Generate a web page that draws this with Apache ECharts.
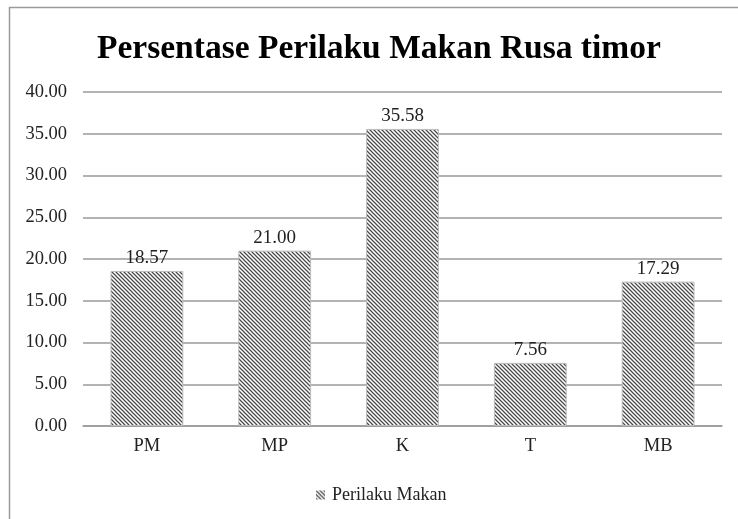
<!DOCTYPE html>
<html><head><meta charset="utf-8">
<script src="https://cdn.jsdelivr.net/npm/echarts@6/dist/echarts.min.js"></script>
<style>html,body{margin:0;padding:0;background:#fff}#c{width:738px;height:519px}</style>
</head><body><div id="c"></div>
<script>
const categories = ['PM', 'MP', 'K', 'T', 'MB'];
const values = [18.57, 21.00, 35.58, 7.56, 17.29];
const seriesName = 'Perilaku Makan';
const titleText = 'Persentase Perilaku Makan Rusa timor';

function makePattern() {
  const s = 4;
  const cv = document.createElement('canvas');
  cv.width = s; cv.height = s;
  const ctx = cv.getContext('2d');
  ctx.fillStyle = '#ffffff';
  ctx.fillRect(0, 0, s, s);
  ctx.strokeStyle = '#4a4a4a';
  ctx.lineWidth = 1.25;
  ctx.beginPath();
  ctx.moveTo(-1, -1); ctx.lineTo(s + 1, s + 1);
  ctx.moveTo(-1, s - 1); ctx.lineTo(1, s + 1);
  ctx.moveTo(s - 1, -1); ctx.lineTo(s + 1, 1);
  ctx.stroke();
  return cv;
}
const pat = { image: makePattern(), repeat: 'repeat' };
const font = '"Liberation Serif", "Times New Roman", serif';

const chart = echarts.init(document.getElementById('c'), null, { renderer: 'canvas' });
chart.setOption({
  animation: false,
  backgroundColor: '#fff',
  textStyle: { fontFamily: font },
  graphic: [{
    type: 'rect', left: 7, top: 5, z: -1,
    shape: { width: 760, height: 540 },
    style: { fill: 'none', stroke: '#9a9a9a', lineWidth: 1.5 }
  }],
  title: {
    text: titleText, left: 92, top: 27,
    textStyle: { fontFamily: font, fontSize: 33.5, fontWeight: 'bold', color: '#000' }
  },
  legend: {
    top: 481, left: 311, itemWidth: 9, itemHeight: 9, itemGap: 4,
    icon: 'rect',
    textStyle: { fontFamily: font, fontSize: 18, color: '#222', padding: [0, 0, 0, 2] },
    data: [{ name: seriesName, itemStyle: { color: pat, borderWidth: 0 } }]
  },
  grid: { left: 83, right: 16, top: 92, bottom: 93, containLabel: false },
  xAxis: {
    type: 'category', data: categories,
    axisLine: { lineStyle: { color: '#9a9a9a', width: 1.5 } },
    axisTick: { show: false },
    axisLabel: { fontFamily: font, fontSize: 18.5, color: '#222', margin: 11 }
  },
  yAxis: {
    type: 'value', min: 0, max: 40, interval: 5,
    axisLine: { show: false }, axisTick: { show: false },
    splitLine: { lineStyle: { color: '#9a9a9a', width: 1.5 } },
    axisLabel: { fontFamily: font, fontSize: 18.5, color: '#222', margin: 16,
      formatter: v => v.toFixed(2) }
  },
  series: [{
    name: seriesName, type: 'bar', data: values,
    barCategoryGap: '43%',
    itemStyle: { color: pat, borderColor: '#bdbdbd', borderWidth: 1 },
    label: { show: true, position: 'top', distance: 3, fontFamily: font, fontSize: 19, color: '#222',
      formatter: p => p.value.toFixed(2) }
  }]
});
</script></body></html>
